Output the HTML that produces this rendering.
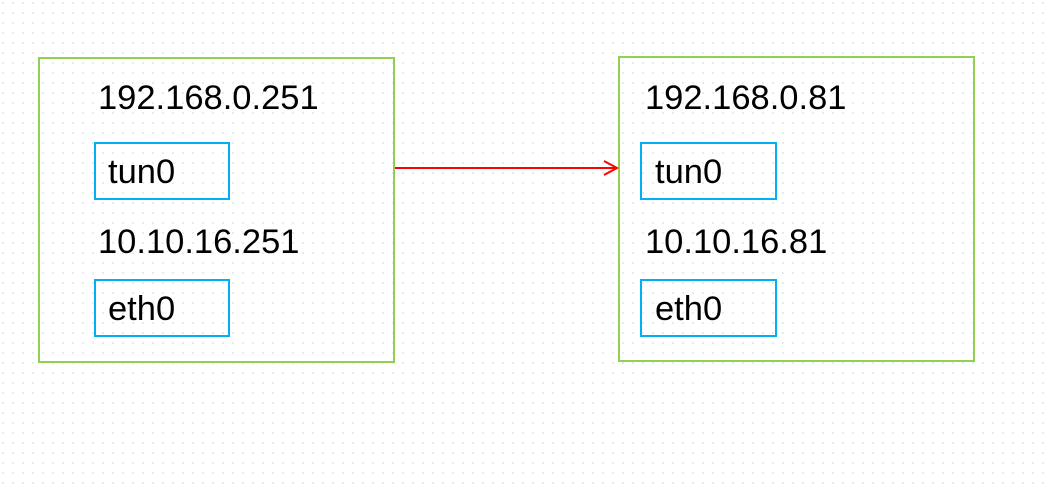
<!DOCTYPE html>
<html><head><style>
html,body{margin:0;padding:0}
body{width:1050px;height:484px;position:relative;overflow:hidden;background-color:#fff;
background-image:radial-gradient(circle,#d6e4e1 0.7px,transparent 1.1px);background-size:10px 10px;background-position:-2px -2px;
font-family:"Liberation Sans",sans-serif;color:#000}
.g{position:absolute;border:2px solid #92d050;box-sizing:border-box;background:transparent}
.b{position:absolute;border:2px solid #00b0f0;box-sizing:border-box}
.t{position:absolute;font-size:34.5px;line-height:34px;white-space:nowrap}
</style></head><body>
<div class="g" style="left:38px;top:57px;width:357px;height:306px"></div>
<div class="g" style="left:618px;top:56px;width:357px;height:306px"></div>
<div class="b" style="left:94px;top:142px;width:136px;height:58px"></div>
<div class="b" style="left:94px;top:279px;width:136px;height:58px"></div>
<div class="b" style="left:640px;top:142px;width:137px;height:58px"></div>
<div class="b" style="left:640px;top:279px;width:137px;height:58px"></div>
<div class="t" style="left:98px;top:81px">192.168.0.251</div>
<div class="t" style="left:108px;top:155px">tun0</div>
<div class="t" style="left:98px;top:225px">10.10.16.251</div>
<div class="t" style="left:108px;top:292px">eth0</div>
<div class="t" style="left:645px;top:81px">192.168.0.81</div>
<div class="t" style="left:655px;top:155px">tun0</div>
<div class="t" style="left:645px;top:225px">10.10.16.81</div>
<div class="t" style="left:655px;top:292px">eth0</div>
<svg style="position:absolute;left:0;top:0" width="1050" height="484">
<line x1="395" y1="168" x2="617" y2="168" stroke="#ff0000" stroke-width="2"/>
<polyline points="604,161 617,168 604,175" fill="none" stroke="#ff0000" stroke-width="2"/>
</svg>
</body></html>
